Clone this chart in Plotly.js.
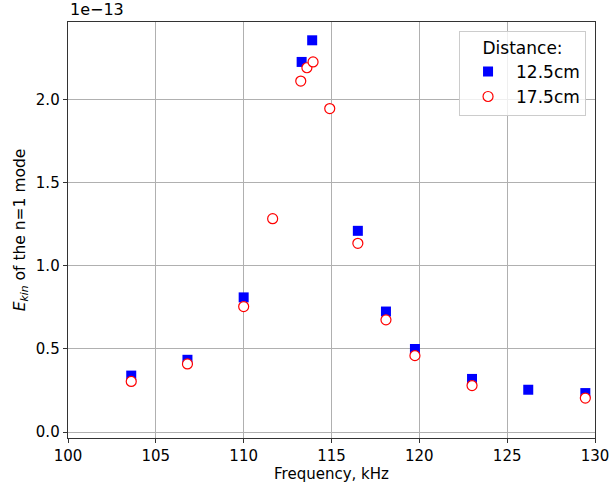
<!DOCTYPE html>
<html>
<head>
<meta charset="utf-8">
<script src="https://cdn.plot.ly/plotly-3.0.1.min.js"></script>
<style>
  html, body { margin: 0; padding: 0; background: #fff; }
  #chart { width: 613px; height: 489px; }
</style>
</head>
<body>
<div id="chart"></div>
<script>
// Kinetic energy of the n=1 mode versus drive frequency (values in units of 1e-13)
const freq125 = [103.6, 106.8, 110.0, 113.3, 113.9, 116.5, 118.1, 119.75, 123.0, 126.2, 129.45];
const ekin125 = [0.34, 0.435, 0.81, 2.225, 2.355, 1.21, 0.725, 0.50, 0.32, 0.255, 0.235];

const freq175 = [103.6, 106.8, 110.0, 111.65, 113.25, 113.6, 113.95, 114.9, 116.5, 118.1, 119.75, 123.0, 129.45];
const ekin175 = [0.305, 0.41, 0.755, 1.283, 2.11, 2.19, 2.225, 1.945, 1.135, 0.675, 0.46, 0.28, 0.205];

const seriesNames = ["12.5cm", "17.5cm"];
const legendTitle = "Distance:";
const xTickVals = [100, 105, 110, 115, 120, 125, 130];
const yTickVals = [0.0, 0.5, 1.0, 1.5, 2.0];
const yTickText = ["0.0", "0.5", "1.0", "1.5", "2.0"];

const FONT = "DejaVu Sans, sans-serif";

const traces = [
  {
    type: "scatter", mode: "markers",
    x: freq125, y: ekin125, name: seriesNames[0],
    marker: { symbol: "square", size: 10, color: "#0000ff", line: { width: 0 } }
  },
  {
    type: "scatter", mode: "markers",
    x: freq175, y: ekin175, name: seriesNames[1],
    marker: { symbol: "circle", size: 10, color: "#ffffff", line: { width: 1.2, color: "#ff0000" } }
  }
];

const layout = {
  width: 613, height: 489,
  margin: { l: 68, r: 18, t: 22, b: 51 },
  paper_bgcolor: "#ffffff", plot_bgcolor: "#ffffff",
  font: { family: FONT, size: 15, color: "#000" },
  showlegend: true,
  xaxis: {
    range: [100, 130],
    tickvals: xTickVals,
    ticks: "outside", ticklen: 4, tickwidth: 1, tickcolor: "#333",
    showgrid: true, gridcolor: "#b0b0b0", gridwidth: 1,
    zeroline: false,
    showline: true, linecolor: "#333", linewidth: 1.3, mirror: true,
    tickfont: { size: 15 },
    title: { text: "Frequency, kHz", font: { size: 15 }, standoff: 4 }
  },
  yaxis: {
    range: [-0.035, 2.465],
    tickvals: yTickVals, ticktext: yTickText,
    ticks: "outside", ticklen: 4, tickwidth: 1, tickcolor: "#333",
    showgrid: true, gridcolor: "#b0b0b0", gridwidth: 1,
    zeroline: false,
    showline: true, linecolor: "#333", linewidth: 1.3, mirror: true,
    tickfont: { size: 15 },
    title: { text: "<i>E</i><sub><i>kin</i></sub> of the n=1 mode", font: { size: 15.5 }, standoff: 6 }
  },
  legend: {
    x: 0.983, xanchor: "right", y: 0.979, yanchor: "top",
    bgcolor: "rgba(255,255,255,0.8)", bordercolor: "#cccccc", borderwidth: 1,
    font: { size: 17 },
    itemwidth: 46,
    title: { text: legendTitle, side: "top center", font: { size: 17 } }
  },
  annotations: [
    {
      text: "1e\u221213", xref: "paper", yref: "paper", x: 0, y: 1,
      xanchor: "left", yanchor: "bottom", yshift: 1, showarrow: false,
      font: { size: 16, color: "#000" }
    }
  ]
};

Plotly.newPlot("chart", traces, layout, { displayModeBar: false, staticPlot: true });
</script>
</body>
</html>
